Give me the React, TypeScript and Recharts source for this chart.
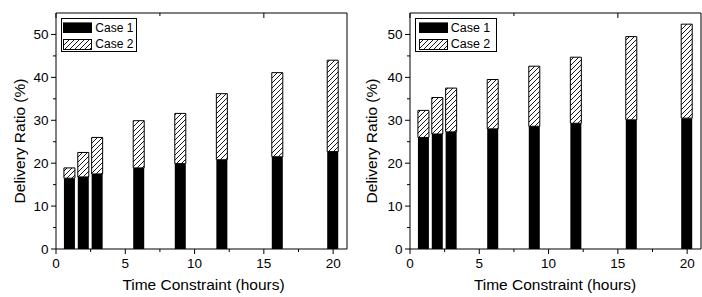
import { BarChart, Bar, XAxis, YAxis, Legend } from 'recharts'

const hours = [1, 2, 3, 6, 9, 12, 16, 20]
const leftCase1 = [16.5, 16.8, 17.5, 18.9, 19.9, 20.8, 21.5, 22.7]
const leftCase2 = [2.4, 5.7, 8.5, 11.0, 11.7, 15.4, 19.6, 21.3]
const rightCase1 = [26.0, 26.8, 27.3, 28.0, 28.6, 29.3, 30.1, 30.5]
const rightCase2 = [6.3, 8.5, 10.2, 11.5, 14.0, 15.4, 19.4, 21.9]
const xTicks = [0, 2.5, 5, 7.5, 10, 12.5, 15, 17.5, 20]
const yTicks = [0, 5, 10, 15, 20, 25, 30, 35, 40, 45, 50]
const seriesNames = ['Case 1', 'Case 2']

const FONT = '"Liberation Sans", Arial, Helvetica, sans-serif'

const isMajorX = (v: number) => v % 5 === 0
const isMajorY = (v: number) => v % 10 === 0

const BottomTick = ({ x, y, payload }: any) => {
  const major = isMajorX(payload.value)
  return (
    <g>
      <line x1={x} x2={x} y1={y} y2={y + (major ? 5 : 3)} stroke="#000" />
      {major && (
        <text x={x} y={y + 18.5} textAnchor="middle" fontSize={13.5} fontFamily={FONT} fill="#000">
          {payload.value}
        </text>
      )}
    </g>
  )
}

const TopTick = ({ x, y, payload }: any) => (
  <line x1={x} x2={x} y1={y} y2={y + (isMajorX(payload.value) ? 5 : 3)} stroke="#000" />
)

const LeftTick = ({ x, y, payload }: any) => {
  const major = isMajorY(payload.value)
  return (
    <g>
      <line x1={x} x2={x - (major ? 5 : 3)} y1={y} y2={y} stroke="#000" />
      {major && (
        <text x={x - 7.5} y={y + 4.8} textAnchor="end" fontSize={13.5} fontFamily={FONT} fill="#000">
          {payload.value}
        </text>
      )}
    </g>
  )
}

const RightTick = ({ x, y, payload }: any) => (
  <line x1={x} x2={x - (isMajorY(payload.value) ? 5 : 3)} y1={y} y2={y} stroke="#000" />
)

function LegendBox({ hatchId, width }: { hatchId: string; width: number }) {
  const textX = width > 80 ? 35.7 : 34.3
  return (
    <svg width={width} height={34} style={{ display: 'block' }}>
      <rect x={0.5} y={0.5} width={width - 1} height={33} fill="#fff" stroke="#000" />
      <rect x={width > 80 ? 4 : 2} y={4.4} width={29} height={10.6} fill="#000" />
      <rect x={width > 80 ? 4.5 : 2.5} y={21.5} width={28} height={10} fill={`url(#${hatchId})`} stroke="#000" />
      <text x={textX} y={13.6} fontSize={width > 80 ? 12.5 : 12} fontFamily={FONT} fill="#000">{seriesNames[0]}</text>
      <text x={textX} y={29.9} fontSize={width > 80 ? 12.5 : 12} fontFamily={FONT} fill="#000">{seriesNames[1]}</text>
    </svg>
  )
}

function Panel({
  case1, case2, id, yAxisWidth, marginRight, legendLeft, legendWidth, titleX, xTitleX,
}: {
  case1: number[]; case2: number[]; id: string; yAxisWidth: number; marginRight: number
  legendLeft: number; legendWidth: number; titleX: number; xTitleX: number
}) {
  const data = hours.map((h, i) => ({ h, c1: case1[i], c2: case2[i] }))
  const hatchId = `hatch-${id}`
  return (
    <BarChart width={351} height={297} data={data} margin={{ top: 12, right: marginRight, bottom: 0, left: 0 }}>
      <defs>
        <pattern id={hatchId} patternUnits="userSpaceOnUse" width={5} height={5}>
          <rect width={5} height={5} fill="#fff" />
          <path d="M-1,1 l2,-2 M0,5 l5,-5 M4,6 l2,-2" stroke="#000" strokeWidth={0.9} />
        </pattern>
      </defs>
      <XAxis
        dataKey="h" type="number" domain={[0, 21]} ticks={xTicks} interval={0}
        height={48} tickSize={0} tickMargin={0} tickLine={false}
        axisLine={{ stroke: '#000' }} tick={BottomTick}
      />
      <XAxis
        xAxisId="top" orientation="top" type="number" domain={[0, 21]} ticks={xTicks} interval={0}
        height={1} tickSize={0} tickMargin={0} tickLine={false}
        axisLine={{ stroke: '#000' }} tick={TopTick}
      />
      <YAxis
        type="number" domain={[0, 55]} ticks={yTicks} interval={0} width={yAxisWidth}
        tickSize={0} tickMargin={0} tickLine={false} axisLine={{ stroke: '#000' }} tick={LeftTick}
      />
      <YAxis
        yAxisId="right" orientation="right" type="number" domain={[0, 55]} ticks={yTicks} interval={0}
        width={1} tickSize={0} tickMargin={0} tickLine={false} axisLine={{ stroke: '#000' }} tick={RightTick}
      />
      <Legend
        layout="vertical" align="center" verticalAlign="middle"
        wrapperStyle={{ left: legendLeft, top: 18, width: legendWidth, height: 34 }}
        content={() => <LegendBox hatchId={hatchId} width={legendWidth} />}
      />
      <Bar dataKey="c1" name={seriesNames[0]} stackId="s" fill="#000" barSize={11} isAnimationActive={false} />
      <Bar dataKey="c2" name={seriesNames[1]} stackId="s" fill={`url(#${hatchId})`} stroke="#000" strokeWidth={1} barSize={11} isAnimationActive={false} />
      <text
        x={titleX} y={141} transform={`rotate(-90, ${titleX}, 141)`} textAnchor="middle" dominantBaseline="central"
        fontSize={15.5} fontFamily={FONT} fill="#000"
      >
        Delivery Ratio (%)
      </text>
      <text x={xTitleX} y={290} textAnchor="middle" fontSize={15.5} fontFamily={FONT} fill="#000">
        Time Constraint (hours)
      </text>
    </BarChart>
  )
}

export default function App() {
  return (
    <div style={{ position: 'absolute', left: 0, top: 0, width: 702, height: 297, background: '#fff', display: 'flex' }}>
      <Panel case1={leftCase1} case2={leftCase2} id="l" yAxisWidth={56} marginRight={3}
        legendLeft={60.7} legendWidth={76} titleX={19} xTitleX={203.5} />
      <Panel case1={rightCase1} case2={rightCase2} id="r" yAxisWidth={59} marginRight={0}
        legendLeft={64.3} legendWidth={82} titleX={20.7} xTitleX={204} />
    </div>
  )
}
